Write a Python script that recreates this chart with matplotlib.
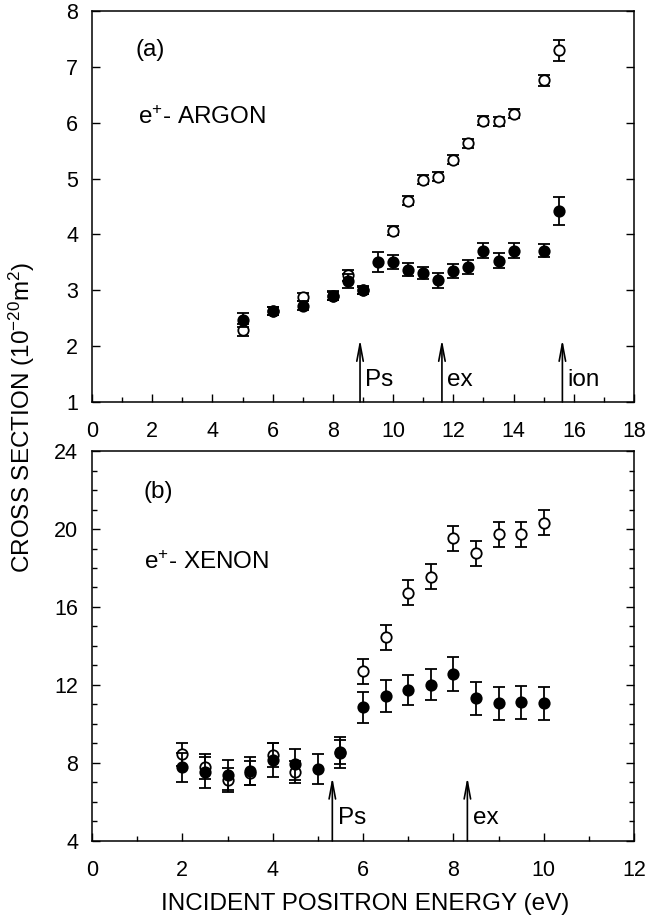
import numpy as np
import matplotlib
matplotlib.use('Agg')
import matplotlib.pyplot as plt
from matplotlib.ticker import MultipleLocator

plt.rcParams['font.family'] = ['Liberation Sans', 'DejaVu Sans']
plt.rcParams['mathtext.default'] = 'regular'
plt.rcParams['font.size'] = 15.5

# e+ - argon (top panel)
ar_open_x = [5, 6, 7, 8, 8.5, 9, 10, 10.5, 11, 11.5, 12, 12.5, 13, 13.5, 14, 15, 15.5]
ar_open_y = [2.29, 2.63, 2.88, 2.90, 3.27, 3.00, 4.07, 4.60, 4.98, 5.03, 5.34, 5.63, 6.04, 6.03, 6.16, 6.76, 7.30]
ar_open_err = [0.1, 0.07, 0.07, 0.07, 0.1, 0.06, 0.075, 0.08, 0.08, 0.08, 0.08, 0.08, 0.08, 0.08, 0.08, 0.1, 0.19]

ar_fill_x = [5, 6, 7, 8, 8.5, 9, 9.5, 10, 10.5, 11, 11.5, 12, 12.5, 13, 13.5, 14, 15, 15.5]
ar_fill_y = [2.47, 2.63, 2.72, 2.90, 3.17, 3.00, 3.50, 3.51, 3.37, 3.31, 3.18, 3.35, 3.42, 3.71, 3.53, 3.71, 3.71, 4.42]
ar_fill_err = [0.12, 0.08, 0.08, 0.08, 0.12, 0.07, 0.18, 0.13, 0.12, 0.11, 0.13, 0.13, 0.13, 0.14, 0.13, 0.13, 0.12, 0.25]

ar_thresh = [8.9, 11.62, 15.62]
ar_thresh_lbl = ['Ps', 'ex', 'ion']

# e+ - xenon (bottom panel)
xe_open_x = [2, 2.5, 3, 3.5, 4, 4.5, 5.5, 6, 6.5, 7, 7.5, 8, 8.5, 9, 9.5, 10]
xe_open_y = [8.45, 7.81, 7.13, 7.47, 8.41, 7.52, 8.55, 12.70, 14.45, 16.73, 17.55, 19.52, 18.75, 19.73, 19.73, 20.32]
xe_open_err = [0.6, 0.63, 0.6, 0.62, 0.64, 0.56, 0.62, 0.63, 0.64, 0.64, 0.64, 0.64, 0.64, 0.64, 0.64, 0.64]

xe_fill_x = [2, 2.5, 3, 3.5, 4, 4.5, 5, 5.5, 6, 6.5, 7, 7.5, 8, 8.5, 9, 9.5, 10]
xe_fill_y = [7.78, 7.52, 7.38, 7.59, 8.15, 7.93, 7.69, 8.53, 10.86, 11.44, 11.74, 12.02, 12.56, 11.32, 11.06, 11.11, 11.06]
xe_fill_err = [0.74, 0.78, 0.77, 0.73, 0.85, 0.79, 0.78, 0.8, 0.8, 0.8, 0.79, 0.8, 0.85, 0.85, 0.85, 0.85, 0.85]

xe_thresh = [5.32, 8.31]
xe_thresh_lbl = ['Ps', 'ex']

fig = plt.figure(figsize=(6.64, 9.21), dpi=100)
ax1 = fig.add_axes([0.1386, 0.5635, 0.8163, 0.4245])
ax2 = fig.add_axes([0.1386, 0.0869, 0.8163, 0.4234])

ebkw = dict(fmt='o', ms=7.5, mec='black', ecolor='black', elinewidth=1.3,
            capsize=4.6, capthick=1.3, mew=1.3)


def draw_panel(ax, ox, oy, oe, fx, fy, fe, thr, thr_lbl, ymin, arrow_top, lbl_y):
    ax.errorbar(ox, oy, yerr=oe, mfc='white', zorder=3, **ebkw)
    ax.errorbar(fx, fy, yerr=fe, mfc='black', zorder=4, **ebkw)
    for x, s in zip(thr, thr_lbl):
        ax.annotate('', xy=(x, arrow_top), xytext=(x, ymin),
                    arrowprops=dict(arrowstyle='->,head_length=0.8,head_width=0.15',
                                    lw=1.2, color='black', shrinkA=0, shrinkB=0))
        ax.text(x + 0.01 * (ax.get_xlim()[1] - ax.get_xlim()[0]), lbl_y, s,
                ha='left', va='center', fontsize=17.5)
    for sp in ax.spines.values():
        sp.set_linewidth(1.1)
    ax.tick_params(which='both', direction='in', top=False, right=True,
                   width=1.0, pad=10)
    ax.tick_params(which='major', length=6)
    ax.tick_params(which='minor', length=3.5)
    ax.tick_params(axis='x', pad=14)


# top
ax1.set_xlim(0, 18)
ax1.set_ylim(1, 8)
ax1.xaxis.set_major_locator(MultipleLocator(2))
ax1.xaxis.set_minor_locator(MultipleLocator(1))
ax1.yaxis.set_major_locator(MultipleLocator(1))
draw_panel(ax1, ar_open_x, ar_open_y, ar_open_err, ar_fill_x, ar_fill_y, ar_fill_err,
           ar_thresh, ar_thresh_lbl, 1, 2.12, 1.39)
ax1.text(1.43, 7.3, '(a)', ha='left', va='center', fontsize=17.5)
ax1.text(1.54, 6.1, 'e$^{+}$- ARGON', ha='left', va='center', fontsize=17.5)

# bottom
ax2.set_xlim(0, 12)
ax2.set_ylim(4, 24)
ax2.xaxis.set_major_locator(MultipleLocator(2))
ax2.xaxis.set_minor_locator(MultipleLocator(1))
ax2.yaxis.set_major_locator(MultipleLocator(4))
ax2.yaxis.set_minor_locator(MultipleLocator(1))
draw_panel(ax2, xe_open_x, xe_open_y, xe_open_err, xe_fill_x, xe_fill_y, xe_fill_err,
           xe_thresh, xe_thresh_lbl, 4, 7.27, 5.16)
ax2.text(1.14, 21.9, '(b)', ha='left', va='center', fontsize=17.5)
ax2.text(1.14, 18.3, 'e$^{+}$- XENON', ha='left', va='center', fontsize=17.5)

fig.text(0.033, 0.547, 'CROSS SECTION (10$^{-20}$m$^{2}$)', rotation=90,
         ha='center', va='center', fontsize=17.5)
fig.text(0.550, 1 - 904 / 921, 'INCIDENT POSITRON ENERGY (eV)',
         ha='center', va='center', fontsize=17.5)

fig.savefig('out.png', dpi=100)
